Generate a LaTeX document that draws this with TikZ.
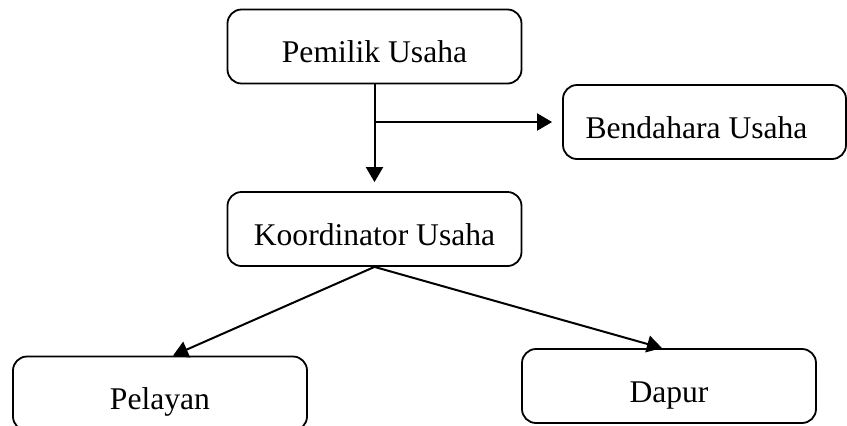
\documentclass[tikz,border=0pt]{standalone}
\usepackage{fontspec}
\setmainfont{Liberation Serif}
\usetikzlibrary{arrows.meta}

\begin{document}
\begin{tikzpicture}[x=0.5pt,y=-0.5pt,
    unitbox/.style={draw, line width=0.9pt, rounded corners=7pt,
        minimum width=147pt, minimum height=37pt, inner sep=0pt,
        text height=16pt, text depth=0pt,
        font=\fontsize{15.8}{19}\selectfont},
    link/.style={line width=1pt, -{Triangle[length=7.5pt,width=8.5pt]}}]
    \useasboundingbox (0,0) rectangle (847,425);

    % Boxes of the structure
    \node[unitbox] (pemilik) at (374.5,46.5) {Pemilik Usaha};
    \node[unitbox, minimum width=141.5pt] (bendahara) at (704.5,122) {\hspace*{-8pt}Bendahara Usaha};
    \node[unitbox] (koordinator) at (374.5,229) {Koordinator Usaha};
    \node[unitbox] (pelayan) at (160,393.5) {Pelayan};
    \node[unitbox] (dapur) at (669,386) {Dapur};

    % Owner down to coordinator, with a branch to the treasurer
    \coordinate (cabang) at (pemilik.south |- bendahara.west);
    \draw[link, shorten >=4.5pt] (pemilik.south) -- (koordinator.north);
    \draw[link, shorten >=5pt] (cabang) -- (bendahara.west);

    % Coordinator to the two work units
    \draw[link] (koordinator.south) -- ([xshift=6.5pt]pelayan.north);
    \draw[link] (koordinator.south) -- ([xshift=-3.5pt]dapur.north);
\end{tikzpicture}
\end{document}
